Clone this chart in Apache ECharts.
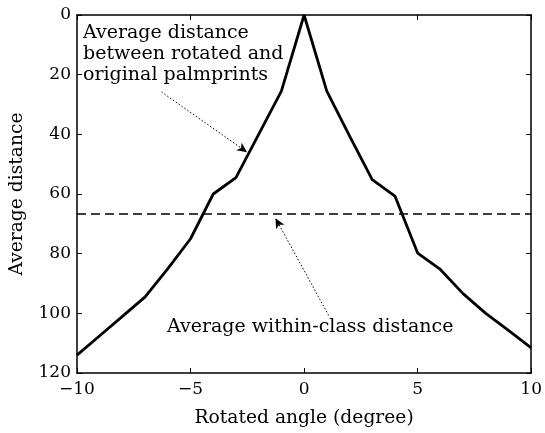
<!DOCTYPE html>
<html>
<head>
<meta charset="utf-8">
<script src="https://cdn.jsdelivr.net/npm/echarts@6/dist/echarts.min.js"></script>
<style>
  html, body { margin: 0; padding: 0; background: #fff; }
  #chart { width: 545px; height: 433px; }
</style>
</head>
<body>
<div id="chart"></div>
<script>
// rotated angle (degree) and average distance
const angles = [-10, -9, -8, -7, -6, -5, -4, -3, -2, -1, 0, 1, 2, 3, 4, 5, 6, 7, 8, 9, 10]
const distances = [114, 107.5, 101, 94.5, 85, 75, 60, 54.5, 40, 25.5, 0, 25.5, 40.5, 55.2, 60.7, 79.8, 85.3, 93.4, 100, 105.7, 111.6]
const withinClass = 66.5
const yTicks = [0, 20, 40, 60, 80, 100, 120]
const xTicks = [-10, -5, 0, 5, 10]

const font = 'DejaVu Serif'
const chart = echarts.init(document.getElementById('chart'))

const mirrorAxis = (extra) => Object.assign({
  type: 'value',
  axisLine: { show: true, onZero: false, lineStyle: { color: '#000', width: 1.5 } },
  axisTick: { show: true, inside: true, length: 5, lineStyle: { color: '#000' } },
  axisLabel: { show: false },
  splitLine: { show: false },
}, extra)

chart.setOption({
  animation: false,
  grid: { left: 72, right: 11, top: 15, bottom: 60 },
  xAxis: [
    mirrorAxis({
      position: 'bottom',
      min: xTicks[0],
      max: xTicks[xTicks.length - 1],
      interval: 5,
      name: 'Rotated angle (degree)',
      nameLocation: 'middle',
      nameGap: 36,
      nameTextStyle: { fontFamily: font, fontSize: 18.7, color: '#000' },
      axisLabel: {
        show: true, margin: 8, fontFamily: font, fontSize: 17, color: '#000',
        formatter: (v) => (v < 0 ? '\u2212' + Math.abs(v) : String(v)),
      },
    }),
    mirrorAxis({ position: 'top', min: -10, max: 10, interval: 5 }),
  ],
  yAxis: [
    mirrorAxis({
      position: 'left',
      inverse: true,
      min: yTicks[0],
      max: yTicks[yTicks.length - 1],
      interval: 20,
      name: 'Average distance',
      nameLocation: 'middle',
      nameGap: 50,
      nameTextStyle: { fontFamily: font, fontSize: 18.7, color: '#000' },
      axisLabel: { show: true, margin: 6, fontFamily: font, fontSize: 17, color: '#000' },
    }),
    mirrorAxis({ position: 'right', inverse: true, min: 0, max: 120, interval: 20 }),
  ],
  series: [
    {
      type: 'line',
      data: angles.map((a, i) => [a, distances[i]]),
      showSymbol: false,
      lineStyle: { color: '#000', width: 2.8 },
      markLine: {
        silent: true,
        symbol: ['none', 'none'],
        label: { show: false },
        lineStyle: { color: '#000', width: 1.5, type: [9, 5] },
        data: [{ yAxis: withinClass }],
      },
    },
    {
      type: 'line',
      data: [],
      markLine: {
        silent: true,
        symbol: ['none', 'arrow'],
        symbolSize: [7, 10],
        label: { show: false },
        lineStyle: { color: '#000', width: 1, type: [1.5, 2] },
        data: [
          [{ coord: [-6.28, 25.8] }, { coord: [-2.51, 46.0] }],
          [{ coord: [1.08, 100.7] }, { coord: [-1.26, 68.1] }],
        ],
      },
    },
  ],
  graphic: [
    {
      type: 'text', left: 83, top: 23,
      style: {
        text: 'Average distance\nbetween rotated and\noriginal palmprints',
        fontFamily: font, fontSize: 19, lineHeight: 21, fill: '#000',
      },
    },
    {
      type: 'text', left: 167, top: 318,
      style: { text: 'Average within-class distance', fontFamily: font, fontSize: 19, fill: '#000' },
    },
  ],
})
</script>
</body>
</html>
